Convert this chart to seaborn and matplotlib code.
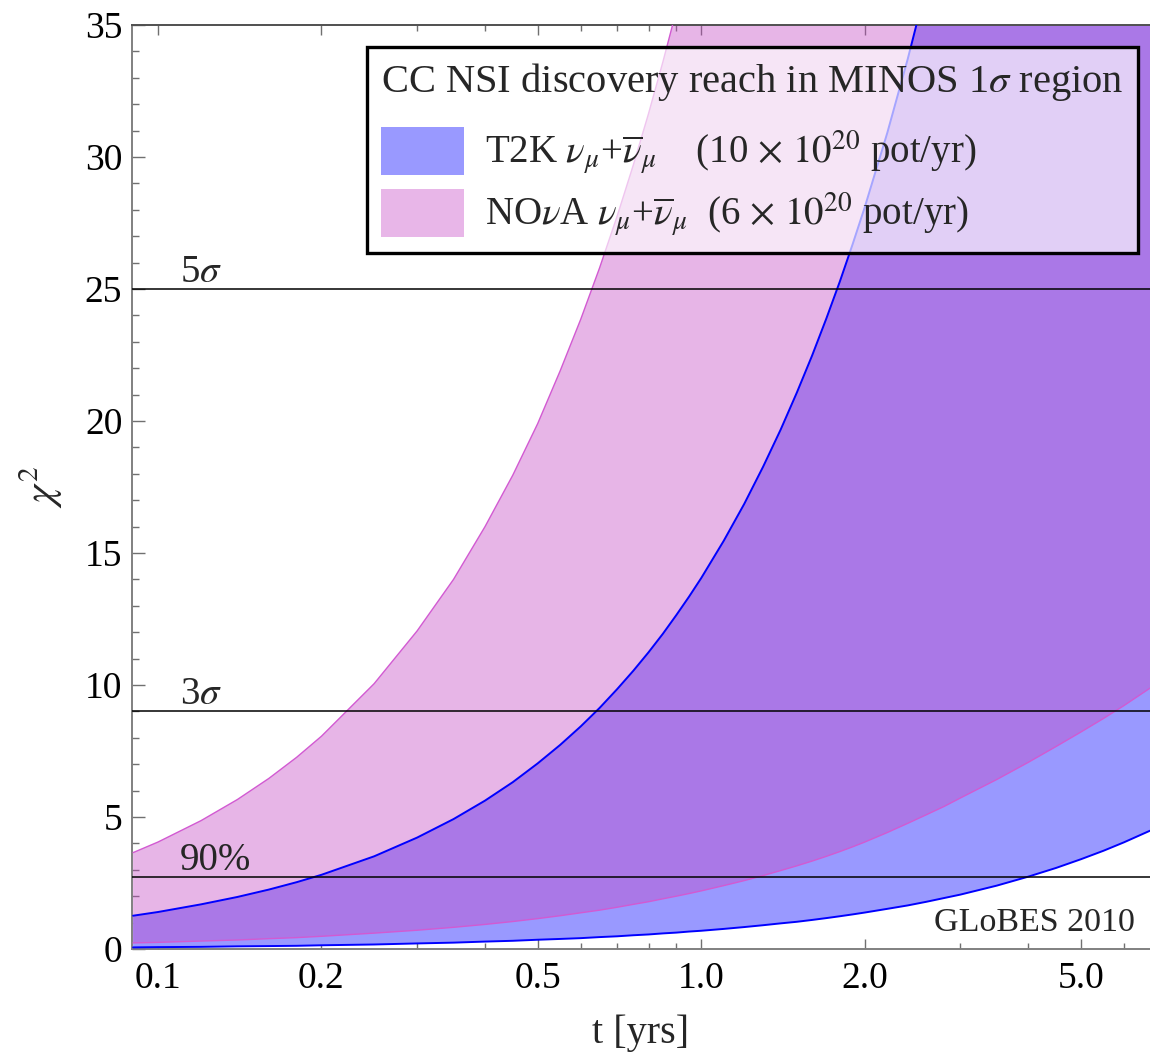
import numpy as np
import pandas as pd
import matplotlib
matplotlib.use("Agg")
import matplotlib.pyplot as plt
import seaborn as sns
from matplotlib.patches import Patch
from matplotlib.ticker import FixedLocator, NullFormatter, MultipleLocator

# running time in years
years = [0.09, 0.1, 0.12, 0.14, 0.16, 0.18, 0.2, 0.25, 0.3, 0.35, 0.4, 0.45,
         0.5, 0.55, 0.6, 0.65, 0.7, 0.75, 0.8, 0.85, 0.9, 0.95, 1.0, 1.1,
         1.2, 1.3, 1.4, 1.5, 1.6, 1.7, 1.8, 1.9, 2.0, 2.2, 2.4, 2.6,
         2.8, 3.0, 3.5, 4.0, 4.5, 5.0, 5.5, 6.0, 6.7]

# chi^2 band edges, T2K (10e20 pot/yr)
t2k_low = [0.06, 0.07, 0.08, 0.10, 0.11, 0.12, 0.14, 0.17, 0.21, 0.24, 0.28, 0.31,
           0.35, 0.38, 0.41, 0.45, 0.48, 0.52, 0.55, 0.59, 0.62, 0.66, 0.69, 0.76,
           0.83, 0.90, 0.97, 1.03, 1.10, 1.17, 1.24, 1.31, 1.38, 1.52, 1.65, 1.79,
           1.93, 2.06, 2.40, 2.74, 3.07, 3.40, 3.72, 4.04, 4.48]
t2k_high = [1.26, 1.40, 1.69, 1.97, 2.25, 2.53, 2.81, 3.51, 4.22, 4.92, 5.62, 6.32,
            7.03, 7.73, 8.43, 9.13, 9.84, 10.54, 11.24, 11.94, 12.65, 13.35, 14.05, 15.46,
            16.86, 18.27, 19.67, 21.08, 22.48, 23.89, 25.29, 26.70, 28.10, 30.91, 33.72, 36.53,
            39.34, 42.15, 49.18, 56.20, 63.23, 70.25, 77.28, 84.30, 94.14]

# chi^2 band edges, NOvA (6e20 pot/yr)
nova_low = [0.23, 0.25, 0.30, 0.34, 0.39, 0.43, 0.48, 0.60, 0.71, 0.82, 0.93, 1.04,
            1.15, 1.26, 1.37, 1.47, 1.58, 1.69, 1.79, 1.90, 2.00, 2.10, 2.20, 2.40,
            2.59, 2.78, 2.97, 3.15, 3.33, 3.51, 3.69, 3.87, 4.05, 4.41, 4.76, 5.09,
            5.40, 5.72, 6.42, 7.07, 7.67, 8.22, 8.73, 9.22, 9.88]
nova_high = [3.65, 4.05, 4.86, 5.66, 6.46, 7.26, 8.06, 10.05, 12.05, 14.0, 16.0, 17.95,
             19.9, 21.9, 23.85, 25.8, 27.75, 29.7, 31.65, 33.6, 35.55, 37.5, 39.5, 43.4,
             47.4, 51.3, 55.3, 59.2, 63.2, 67.1, 71.1, 75.0, 79.0, 86.9, 94.8, 102.7,
             110.6, 118.5, 138.3, 158.0, 177.8, 197.5, 217.3, 237.0, 264.7]

# confidence levels
levels = [2.71, 9.0, 25.0]
level_labels = ["90%", r"3$\sigma$", r"5$\sigma$"]

x_ticks = [0.1, 0.2, 0.5, 1.0, 2.0, 5.0]
x_tick_labels = ["0.1", "0.2", "0.5", "1.0", "2.0", "5.0"]
x_minor = [0.3, 0.4, 0.6, 0.7, 0.8, 0.9, 3.0, 4.0, 6.0]
y_ticks = [0, 5, 10, 15, 20, 25, 30, 35]

legend_title = r"CC NSI discovery reach in MINOS 1$\sigma$ region"
t2k_label = r"T2K $\nu_\mu$+$\overline{\nu}_\mu$    (10 $\times$ $10^{20}$ pot/yr)"
nova_label = r"NO$\nu$A $\nu_\mu$+$\overline{\nu}_\mu$  (6 $\times$ $10^{20}$ pot/yr)"

sns.set_theme(style="ticks")
plt.rcParams["font.family"] = ["Liberation Serif", "DejaVu Serif"]
plt.rcParams["mathtext.fontset"] = "stix"

t2k_fill = "#9999FF"
nova_fill = "#C548C5"
nova_patch = "#E8B6E8"
t2k_edge = "#0000FF"
nova_edge = "#D25AD2"

fig = plt.figure(figsize=(11.5, 10.57), dpi=100)
ax = fig.add_axes([0.1148, 0.1022, 0.8852, 0.8741])
ax.set_xscale("log")

ax.fill_between(years, t2k_low, t2k_high, color=t2k_fill, lw=0, zorder=1)
ax.fill_between(years, nova_low, nova_high, color=nova_fill, alpha=0.4, lw=0, zorder=2)

edges = pd.DataFrame({
    "t": years * 4,
    "chi2": t2k_low + t2k_high + nova_low + nova_high,
    "curve": (["t2k_low"] * len(years) + ["t2k_high"] * len(years)
              + ["nova_low"] * len(years) + ["nova_high"] * len(years)),
})
for name, col, lw in [("nova_low", nova_edge, 1.0), ("nova_high", nova_edge, 1.0),
                      ("t2k_low", t2k_edge, 1.4), ("t2k_high", t2k_edge, 1.4)]:
    sns.lineplot(data=edges[edges["curve"] == name], x="t", y="chi2", color=col,
                 lw=lw, ax=ax, estimator=None, sort=False, zorder=3)

for lev, lab in zip(levels, level_labels):
    ax.axhline(lev, color="black", lw=1.1, zorder=4)
    ax.text(0.047, lev + 0.28, lab, transform=ax.get_yaxis_transform(),
            ha="left", va="baseline", fontsize=28, zorder=5)

ax.text(0.985, 0.019, "GLoBES 2010", transform=ax.transAxes, ha="right",
        va="baseline", fontsize=24.5, zorder=5)

ax.set_xlim(0.0896, 6.7)
ax.set_ylim(0, 35)
ax.set_xticks(x_ticks, labels=x_tick_labels)
ax.xaxis.set_minor_locator(FixedLocator(x_minor))
ax.xaxis.set_minor_formatter(NullFormatter())
ax.set_yticks(y_ticks)
ax.yaxis.set_minor_locator(MultipleLocator(1))

ax.tick_params(which="both", direction="in", top=True, right=False,
               color="#707070", labelcolor="black", width=1.0)
ax.tick_params(axis="y", which="major", length=9, labelsize=27, pad=7)
ax.tick_params(axis="y", which="minor", length=5)
ax.tick_params(axis="x", which="major", length=7.5, labelsize=27, pad=9)
ax.tick_params(axis="x", which="minor", length=4)

for side in ["left", "bottom"]:
    ax.spines[side].set_color("#808080")
    ax.spines[side].set_linewidth(1.4)
ax.spines["top"].set_color("#505050")
ax.spines["top"].set_linewidth(1.4)
ax.spines["right"].set_visible(False)

ax.set_xlabel("t [yrs]", fontsize=29, labelpad=13)
ax.set_ylabel(r"$\chi^2$", fontsize=30, labelpad=14)

fs = 28
leg = ax.legend(
    handles=[Patch(facecolor=t2k_fill, edgecolor="none"),
             Patch(facecolor=nova_patch, edgecolor="none")],
    labels=[t2k_label, nova_label], title=legend_title,
    loc="upper right", bbox_to_anchor=(0.988, 0.976), borderaxespad=0,
    fontsize=fs, title_fontsize=29.2, frameon=True, fancybox=False,
    handlelength=2.13, handleheight=1.55, handletextpad=0.55,
    borderpad=0.36, labelspacing=0.3, alignment="left",
)
# a little more room between the title and the entries
leg._legend_box.sep = 0.6 * fs
frame = leg.get_frame()
frame.set_alpha(None)
frame.set_facecolor((1, 1, 1, 0.65))
frame.set_edgecolor((0, 0, 0, 1))
frame.set_linewidth(2.4)
leg.set_zorder(10)

fig.savefig("out.png", dpi=100)
